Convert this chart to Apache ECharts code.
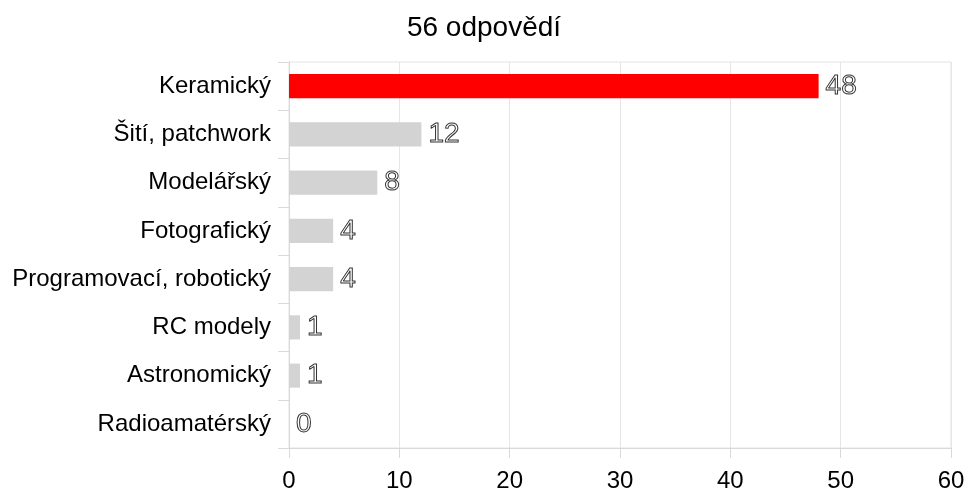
<!DOCTYPE html>
<html>
<head>
<meta charset="utf-8">
<style>
html, body { margin: 0; padding: 0; background: #fff; }
#main { width: 968px; height: 493px; }
</style>
<script src="https://cdn.jsdelivr.net/npm/echarts@6/dist/echarts.min.js"></script>
</head>
<body>
<div id="main"></div>
<script>
var categories = ['Keramický', 'Šití, patchwork', 'Modelářský', 'Fotografický', 'Programovací, robotický', 'RC modely', 'Astronomický', 'Radioamatérský'];
var values = [48, 12, 8, 4, 4, 1, 1, 0];
var barColors = ['#ff0000', '#d3d3d3', '#d3d3d3', '#d3d3d3', '#d3d3d3', '#d3d3d3', '#d3d3d3', '#d3d3d3'];
var xTicks = [0, 10, 20, 30, 40, 50, 60];

var myChart = echarts.init(document.getElementById('main'));
var option = {
    animation: false,
    textStyle: { fontFamily: 'Liberation Sans' },
    title: {
        text: '56 odpovědí',
        left: 'center',
        top: 9,
        textStyle: { fontFamily: 'Liberation Sans', fontSize: 28, fontWeight: 'normal', color: '#000' }
    },
    grid: { left: 289, right: 17, top: 62, bottom: 44, show: true, borderColor: '#e3e3e3', borderWidth: 1 },
    xAxis: {
        type: 'value',
        min: xTicks[0],
        max: xTicks[xTicks.length - 1],
        interval: 10,
        axisLine: { show: true, lineStyle: { color: '#d9d9d9' } },
        axisTick: { show: true, length: 10, lineStyle: { color: '#d9d9d9' } },
        axisLabel: { fontSize: 24, color: '#000', margin: 21 },
        splitLine: { show: true, lineStyle: { color: '#e6e6e6' } }
    },
    yAxis: {
        type: 'category',
        inverse: true,
        data: categories,
        axisLine: { show: true, lineStyle: { color: '#d9d9d9' } },
        axisTick: { show: true, length: 11, lineStyle: { color: '#d9d9d9' } },
        axisLabel: { fontSize: 24, color: '#000', margin: 18 },
        splitLine: { show: false }
    },
    series: [{
        type: 'bar',
        barWidth: '50%',
        data: values.map(function(v, i) {
            return { value: v, itemStyle: { color: barColors[i] } };
        }),
        label: {
            show: true,
            position: 'right',
            distance: 7,
            fontSize: 28,
            color: 'rgba(255,255,255,0)',
            textBorderColor: '#333',
            textBorderWidth: 1,
            fontFamily: 'Liberation Sans'
        }
    }]
};
myChart.setOption(option);
</script>
</body>
</html>
